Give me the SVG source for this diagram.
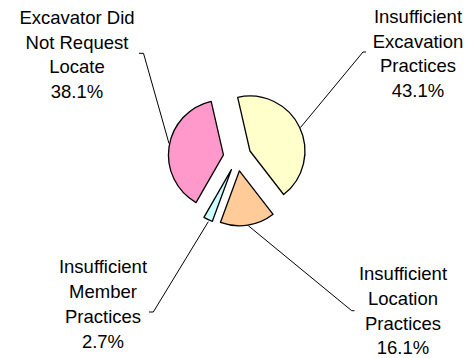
<svg xmlns="http://www.w3.org/2000/svg" width="474" height="358" viewBox="0 0 474 358">
<style>
.s{stroke:#000;stroke-width:1.3;stroke-linejoin:round}
.l{fill:none;stroke:#000;stroke-width:1}
text{font-family:"Liberation Sans",Arial,sans-serif;font-size:18.5px;fill:#000;text-anchor:middle}
</style>
<rect width="474" height="358" fill="#fff"/>
<g id="connectors">
<polyline class="l" points="139,53.3 143.5,53.3 169,143.5"/>
<polyline class="l" points="300.5,127.5 363,52 366,52"/>
<polyline class="l" points="248.3,225.7 351.7,310.7 354.5,310.7"/>
<polyline class="l" points="208.3,221.7 153.3,312 149,312"/>
</g>
<g id="slice-excavation">
<path class="s" fill="#FFFFCC" d="M249.96,151.01 L237.68,97.40 A55,55 0 0 1 283.63,194.50 Z"/>
</g>
<g id="slice-location">
<path class="s" fill="#FFCC99" d="M239.43,170.84 L273.10,214.33 A55,55 0 0 1 220.42,222.45 Z"/>
</g>
<g id="slice-member">
<path class="s" fill="#CCFFFF" d="M231.37,169.68 L212.36,221.29 A55,55 0 0 1 203.92,217.34 Z"/>
</g>
<g id="slice-no-locate">
<path class="s" fill="#FF99CC" d="M223.45,154.93 L196.00,202.59 A55,55 0 0 1 211.17,101.32 Z"/>
</g>
<g id="label-no-locate">
<text x="77" y="24">Excavator Did</text>
<text x="77" y="48.6">Not Request</text>
<text x="77" y="73.2">Locate</text>
<text x="77" y="97.8">38.1%</text>
</g>
<g id="label-excavation">
<text x="418" y="22.7">Insufficient</text>
<text x="418" y="47.5">Excavation</text>
<text x="418" y="72.3">Practices</text>
<text x="418" y="97.1">43.1%</text>
</g>
<g id="label-member">
<text x="103" y="273.3">Insufficient</text>
<text x="103" y="298.1">Member</text>
<text x="103" y="322.9">Practices</text>
<text x="103" y="347.7">2.7%</text>
</g>
<g id="label-location">
<text x="403" y="280.4">Insufficient</text>
<text x="403" y="305.0">Location</text>
<text x="403" y="329.6">Practices</text>
<text x="403" y="354.0">16.1%</text>
</g>
</svg>
